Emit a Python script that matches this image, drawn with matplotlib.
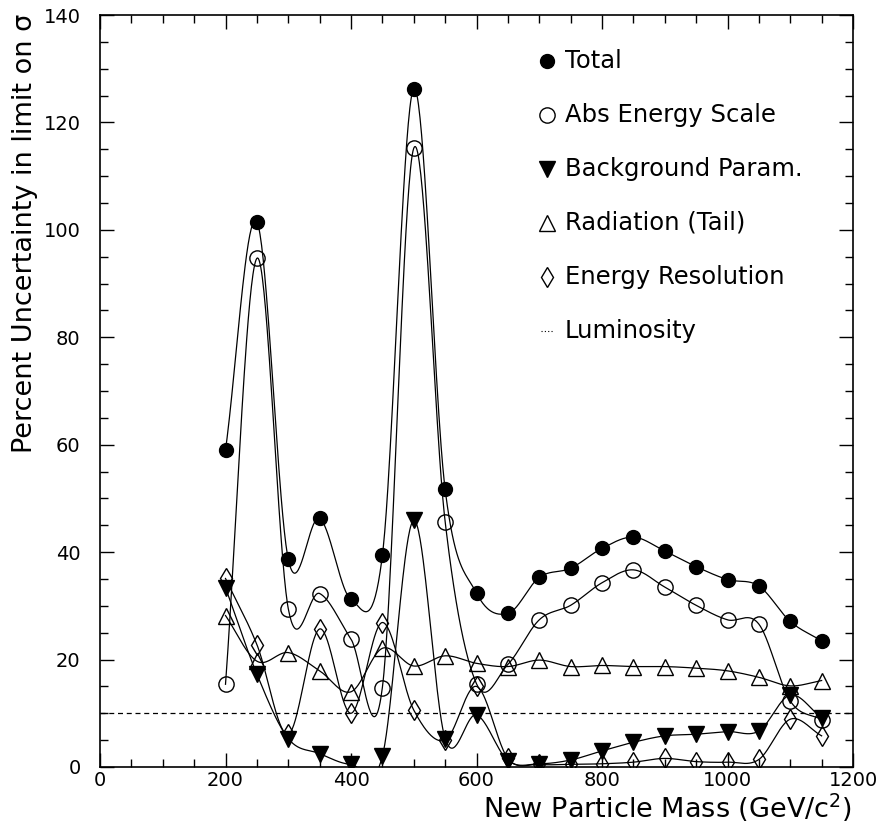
import matplotlib
matplotlib.use("Agg")
import matplotlib.pyplot as plt
import numpy as np

plt.rcParams['font.family'] = ['DejaVu Sans']

mass = [200, 250, 300, 350, 400, 450, 500, 550, 600, 650, 700, 750,
        800, 850, 900, 950, 1000, 1050, 1100, 1150]

total = [59.0, 101.5, 38.7, 46.3, 31.2, 39.4, 126.3, 51.7, 32.4, 28.6, 35.3, 37.0,
         40.7, 42.8, 40.2, 37.3, 34.9, 33.7, 27.1, 23.5]
abs_scale = [15.4, 94.7, 29.5, 32.3, 23.8, 14.8, 115.2, 45.7, 15.5, 19.1, 27.4, 30.1,
             34.3, 36.7, 33.5, 30.1, 27.4, 26.6, 12.3, 8.8]
background = [33.4, 17.3, 5.3, 2.5, 0.5, 2.0, 45.9, 5.3, 9.7, 1.2, 0.6, 1.3,
              3.0, 4.6, 5.8, 6.1, 6.6, 6.7, 13.4, 9.1]
radiation = [28.2, 19.7, 21.3, 17.9, 14.0, 22.1, 18.8, 20.7, 19.3, 18.7, 19.9, 18.7,
             18.9, 18.7, 18.7, 18.4, 17.9, 16.7, 15.1, 16.1]
resolution = [35.1, 22.8, 6.1, 25.7, 10.0, 26.9, 10.6, 5.0, 15.0, 1.6, 0.5, 0.5,
              0.6, 0.9, 1.6, 1.0, 0.9, 1.4, 8.9, 5.8]
luminosity = 10.0

labels = ["Total", "Abs Energy Scale", "Background Param.", "Radiation (Tail)",
          "Energy Resolution", "Luminosity"]


def smooth(x, y, n=40):
    # Catmull-Rom curve through the points (smooth line like the original)
    x = np.asarray(x, float)
    y = np.asarray(y, float)
    k = len(x)
    m = np.zeros(k)
    m[1:-1] = (y[2:] - y[:-2]) / (x[2:] - x[:-2])
    m[0] = (y[1] - y[0]) / (x[1] - x[0])
    m[-1] = (y[-1] - y[-2]) / (x[-1] - x[-2])
    xs, ys = [], []
    for i in range(k - 1):
        h = x[i + 1] - x[i]
        t = np.linspace(0, 1, n, endpoint=(i == k - 2))
        h00 = 2 * t**3 - 3 * t**2 + 1
        h10 = t**3 - 2 * t**2 + t
        h01 = -2 * t**3 + 3 * t**2
        h11 = t**3 - t**2
        xs.append(x[i] + t * h)
        ys.append(h00 * y[i] + h10 * h * m[i] + h01 * y[i + 1] + h11 * h * m[i + 1])
    return np.concatenate(xs), np.concatenate(ys)


fig = plt.figure(figsize=(8.8, 8.25), dpi=100)
ax = fig.add_axes([100 / 880, 58 / 825, 753 / 880, 752 / 825])

styles = [
    (total, dict(marker='o', markersize=10, color='black')),
    (abs_scale, dict(marker='o', markersize=11, color='black', fillstyle='none')),
    (background, dict(marker='v', markersize=11, color='black')),
    (radiation, dict(marker='^', markersize=12, color='black', fillstyle='none')),
    (resolution, dict(marker='d', markersize=10, color='black', fillstyle='none')),
]

for vals, st in styles:
    sx, sy = smooth(mass, vals)
    ax.plot(sx, sy, color='black', lw=0.9)
    ax.plot(mass, vals, linestyle='none', markeredgewidth=1.0, **st)

ax.axhline(luminosity, color='black', lw=0.9, linestyle=(0, (4, 3)))

# legend drawn by hand, as in the original
ly = 0.939
for (vals, st), lab in zip(styles, labels[:5]):
    ax.plot([0.594], [ly], transform=ax.transAxes, linestyle='none',
            markeredgewidth=1.0, clip_on=False, **st)
    ax.text(0.617, ly, lab, transform=ax.transAxes, fontsize=17.5, va='center', ha='left')
    ly -= 0.0718
ax.plot([0.585, 0.603], [ly, ly], transform=ax.transAxes, color='black', lw=0.8,
        linestyle=(0, (1, 2)))
ax.text(0.617, ly, labels[5], transform=ax.transAxes, fontsize=17.5, va='center', ha='left')

ax.set_xlim(0, 1200)
ax.set_ylim(0, 140)
ax.set_xticks(np.arange(0, 1201, 200))
ax.set_xticks(np.arange(0, 1201, 50), minor=True)
ax.set_yticks(np.arange(0, 141, 20))
ax.set_yticks(np.arange(0, 141, 5), minor=True)
ax.tick_params(which='both', direction='in', top=True, right=True, labelsize=14, width=1)
ax.tick_params(which='major', length=10)
ax.tick_params(which='minor', length=6)
ax.tick_params(axis='x', which='major', pad=3)
ax.tick_params(axis='y', which='major', pad=14)
for sp in ax.spines.values():
    sp.set_linewidth(1.2)

fig.text(852 / 880, 1 - 808 / 825, r'New Particle Mass (GeV/c$^2$)', fontsize=19.5,
         ha='right', va='center')
fig.text(25 / 880, 1 - 14 / 825, 'Percent Uncertainty in limit on σ', fontsize=19.5,
         rotation=90, ha='center', va='top')

fig.savefig('out.png', dpi=100)
